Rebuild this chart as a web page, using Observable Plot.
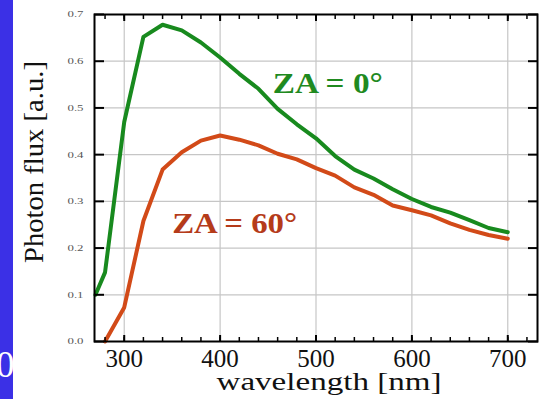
<!DOCTYPE html>
<html><head><meta charset="utf-8">
<script src="https://cdn.jsdelivr.net/npm/d3@7"></script>
<script src="https://cdn.jsdelivr.net/npm/@observablehq/plot@0.6"></script>
<style>
body{margin:0;background:#fff;}
#wrap{position:relative;width:546px;height:399px;overflow:hidden;background:#fff;}
#strip{position:absolute;left:0;top:0;width:13px;height:399px;background:#3b30e6;overflow:hidden;z-index:2;}
#strip span{position:absolute;left:-4px;top:346px;color:#fff;font-size:37px;font-family:"Liberation Serif","Times New Roman",serif;line-height:1;}
#wrap svg{position:absolute;left:0;top:0;}
</style></head>
<body><div id="wrap"><div id="strip"><span>0</span></div></div>
<script>
// Wavelengths (nm) and photon flux (a.u.)
const wavelengthZA0 = [270, 280, 300, 320, 340, 360, 380, 400, 420, 440, 460, 480, 500, 520, 540, 560, 580, 600, 620, 640, 660, 680, 700];
const fluxZA0 = [0.100, 0.148, 0.470, 0.652, 0.678, 0.666, 0.640, 0.608, 0.573, 0.541, 0.498, 0.465, 0.435, 0.397, 0.368, 0.349, 0.326, 0.305, 0.288, 0.276, 0.260, 0.243, 0.234];
const wavelengthZA60 = [280, 300, 320, 340, 360, 380, 400, 420, 440, 460, 480, 500, 520, 540, 560, 580, 600, 620, 640, 660, 680, 700];
const fluxZA60 = [0.000, 0.073, 0.258, 0.368, 0.405, 0.430, 0.441, 0.432, 0.420, 0.402, 0.390, 0.371, 0.355, 0.330, 0.314, 0.291, 0.281, 0.270, 0.253, 0.239, 0.228, 0.220];
const seriesLabels = ["ZA = 0°", "ZA = 60°"];
const xTicks = [300, 400, 500, 600, 700];
const xMinorTicks = [280, 300, 320, 340, 360, 380, 400, 420, 440, 460, 480, 500, 520, 540, 560, 580, 600, 620, 640, 660, 680, 700, 720];
const yTicks = [0.0, 0.1, 0.2, 0.3, 0.4, 0.5, 0.6, 0.7];
const yGrid = [0.1, 0.2, 0.3, 0.4, 0.5, 0.6];
const xLabel = "wavelength [nm]";
const yLabel = "Photon flux [a.u.]";

const za0 = wavelengthZA0.map((w, i) => ({w, f: fluxZA0[i]}));
const za60 = wavelengthZA60.map((w, i) => ({w, f: fluxZA60[i]}));

const green = "#188a1e", red = "#d24a18";
const serif = '"Liberation Serif","Times New Roman",serif';

const plot = Plot.plot({
  width: 546, height: 399,
  marginLeft: 94, marginRight: 9, marginTop: 14, marginBottom: 58,
  style: {fontFamily: serif, background: "transparent", overflow: "visible"},
  x: {domain: [269, 731], label: null},
  y: {domain: [0, 0.7], label: null},
  marks: [
    Plot.gridX(xTicks, {stroke: "#c6c6c6", strokeOpacity: 1, strokeWidth: 1.2}),
    Plot.gridY(yGrid, {stroke: "#c6c6c6", strokeOpacity: 1, strokeWidth: 1.2}),
    Plot.line(za60, {x: "w", y: "f", stroke: red, strokeWidth: 4, strokeLinejoin: "round"}),
    Plot.line(za0, {x: "w", y: "f", stroke: green, strokeWidth: 4, strokeLinejoin: "round"}),
    Plot.axisX(xTicks, {anchor: "bottom", tickSize: -6, tickFormat: () => "", label: null, strokeWidth: 2}),
    Plot.axisX(xTicks, {anchor: "top", tickSize: -6, tickFormat: () => "", label: null, strokeWidth: 2}),
    Plot.axisX(xMinorTicks, {anchor: "bottom", tickSize: -4, tickFormat: () => "", label: null, strokeWidth: 1.5}),
    Plot.axisX(xMinorTicks, {anchor: "top", tickSize: -4, tickFormat: () => "", label: null, strokeWidth: 1.5}),
    Plot.axisX(xTicks, {anchor: "bottom", tickSize: 0, tickPadding: 8, fontSize: 25, fill: "#111", label: null}),
    Plot.axisY(yTicks, {anchor: "left", tickSize: -10, tickFormat: () => "", label: null, strokeWidth: 2}),
    Plot.axisY(yTicks, {anchor: "right", tickSize: -10, tickFormat: () => "", label: null, strokeWidth: 2}),
    Plot.axisY(yTicks, {anchor: "left", tickSize: 0, tickPadding: 11, fontSize: 9, fill: "#555", tickFormat: d3.format(".1f"), label: null}),
    Plot.frame({stroke: "#000", strokeWidth: 2}),
    Plot.text([xLabel], {frameAnchor: "bottom", dx: 13, dy: 48, fontSize: 25, fill: "#111"}),
    Plot.text([yLabel], {frameAnchor: "left", rotate: -90, textAnchor: "start", dx: -60, dy: 85, fontSize: 28, fill: "#111"}),
    Plot.text([seriesLabels[0]], {x: 455, y: 0.552, textAnchor: "start", fontSize: 29, fontWeight: "bold", fill: "#1f8a1f"}),
    Plot.text([seriesLabels[1]], {x: 350, y: 0.253, textAnchor: "start", fontSize: 29, fontWeight: "bold", fill: "#b53b1a"})
  ]
});

const lengths = {"wavelength [nm]": 225, "Photon flux [a.u.]": 202, "ZA = 0°": 110, "ZA = 60°": 125};
yTicks.forEach(v => lengths[d3.format(".1f")(v)] = 16);
d3.select(plot).selectAll("text").each(function() {
  const t = this.textContent;
  if (lengths[t]) {
    this.setAttribute("textLength", lengths[t]);
    this.setAttribute("lengthAdjust", "spacingAndGlyphs");
  }
});
document.getElementById("wrap").appendChild(plot);
</script>
</body></html>
